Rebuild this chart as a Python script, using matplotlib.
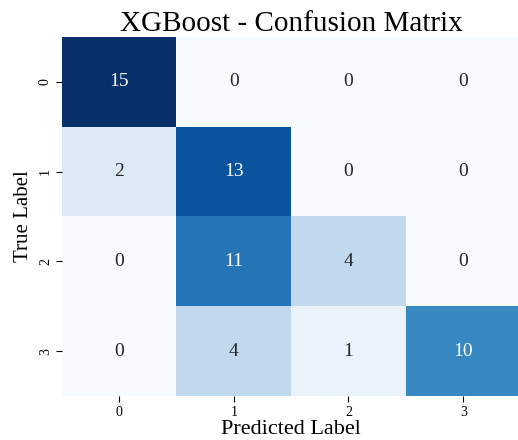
import numpy as np
import matplotlib
matplotlib.use('Agg')
import matplotlib.pyplot as plt
import seaborn as sns

# 混淆矩阵数据
class_labels = ['0', '1', '2', '3']
row_0 = [15, 0, 0, 0]
row_1 = [2, 13, 0, 0]
row_2 = [0, 11, 4, 0]
row_3 = [0, 4, 1, 10]

plt.rcParams['font.family'] = ['Liberation Serif', 'DejaVu Serif']

cm = np.array([row_0, row_1, row_2, row_3])

fig = plt.figure(figsize=(5.18, 4.40), dpi=100)
ax = fig.add_axes([0.119, 0.10, 0.886, 0.816])

sns.heatmap(cm, annot=True, fmt='d', cmap='Blues', cbar=False,
            xticklabels=class_labels, yticklabels=class_labels,
            annot_kws={'fontsize': 14}, ax=ax)

ax.set_title('XGBoost - Confusion Matrix', fontsize=21, pad=4)
ax.set_xlabel('Predicted Label', fontsize=16, labelpad=1)
ax.set_ylabel('True Label', fontsize=15, labelpad=4)
ax.tick_params(axis='both', labelsize=10, length=4, pad=3)
plt.setp(ax.get_yticklabels(), rotation=90, va='center')
plt.setp(ax.get_xticklabels(), rotation=0)

plt.savefig('out.png', dpi=100)
plt.close()
